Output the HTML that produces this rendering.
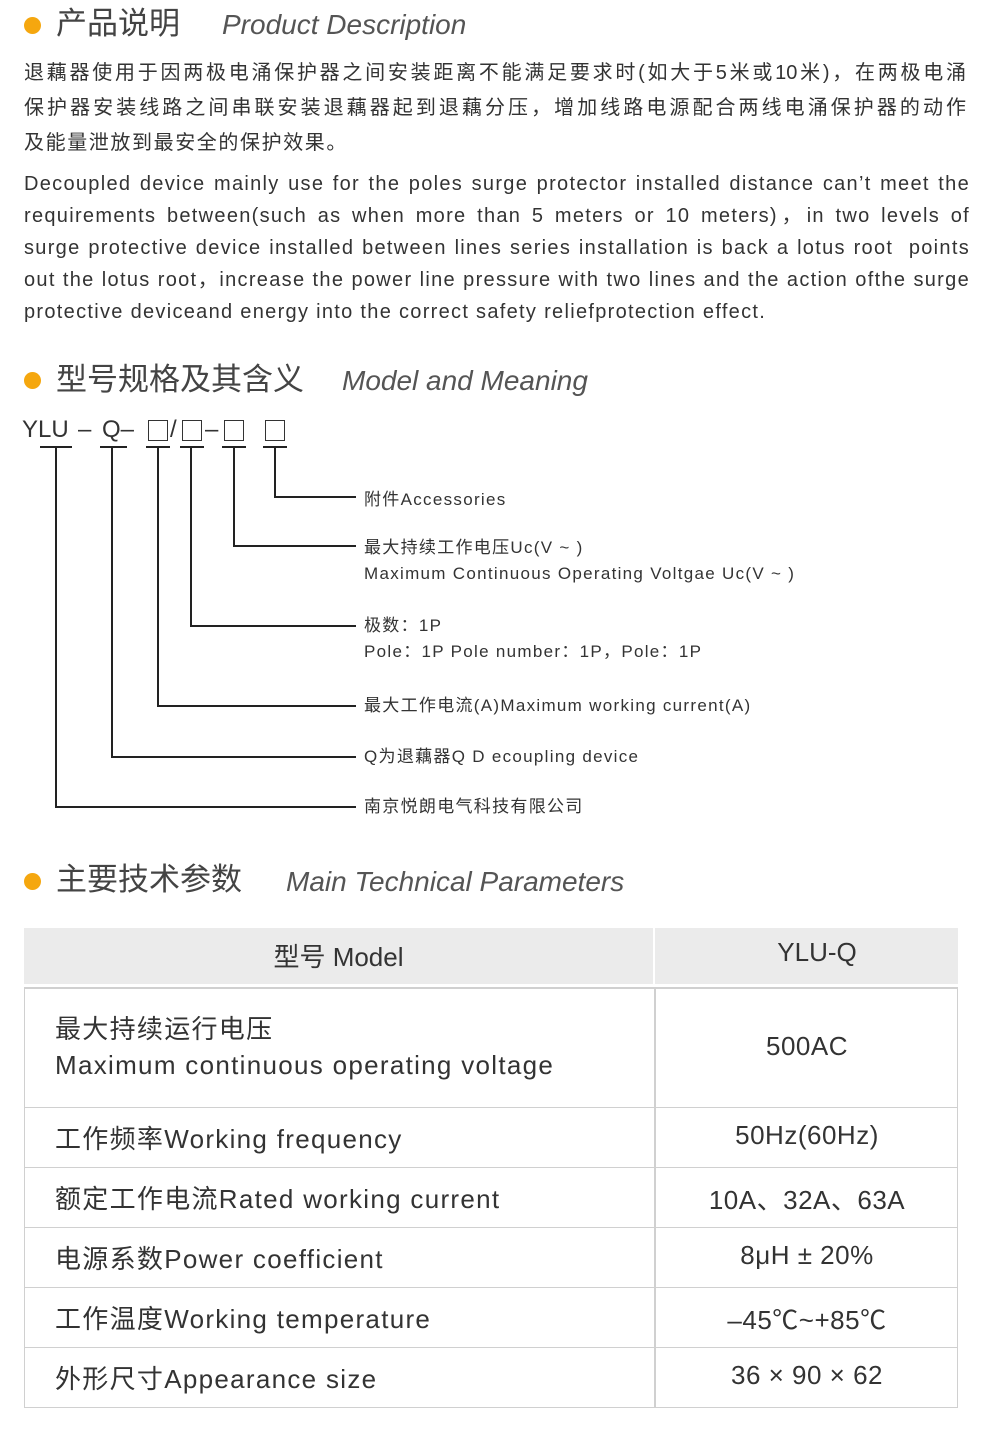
<!DOCTYPE html>
<html><head><meta charset="utf-8"><style>
*{margin:0;padding:0;box-sizing:border-box}
body{width:1000px;height:1435px;background:#fff;position:relative;color:#333;font-family:"Liberation Sans","Noto Sans CJK SC",sans-serif;overflow:hidden}
.a{position:absolute;white-space:nowrap}
.j{position:absolute;white-space:nowrap;text-align:justify;text-align-last:justify}
.dot{position:absolute;width:17px;height:17px;border-radius:50%;background:#f5a70f}
.h{font-size:31px;color:#444;line-height:40px}
.hi{font-size:28px;font-style:italic;color:#555;line-height:36px}
.cn{font-size:20px;left:24px;width:942px;line-height:28px}
.en{font-size:20px;left:24px;width:946px;letter-spacing:1.3px;line-height:26px;height:26px}
.l{position:absolute;background:#222}
.t{font-size:17px;letter-spacing:1.3px;line-height:20px}
.row{position:absolute;left:24px;width:934px;border:1.5px solid #d0d0d0;border-top:none}
.c1{position:absolute;left:30px;font-size:26px;letter-spacing:1.3px;white-space:nowrap}
.c2{position:absolute;left:630px;width:304px;text-align:center;font-size:26px;letter-spacing:0.5px}
.vd{position:absolute;left:654px;width:1.5px;background:#d0d0d0}
</style></head><body>
<div class="dot" style="left:24px;top:17px"></div>
<div class="a h" style="left:56px;top:4px">产品说明</div>
<div class="a hi" style="left:222px;top:7px">Product Description</div>
<div class="j cn" style="top:59px">退藕器使用于因两极电涌保护器之间安装距离不能满足要求时(如大于5米或10米)，在两极电涌</div>
<div class="j cn" style="top:94px">保护器安装线路之间串联安装退藕器起到退藕分压，增加线路电源配合两线电涌保护器的动作</div>
<div class="a cn" style="top:129px;letter-spacing:1.6px">及能量泄放到最安全的保护效果。</div>
<div class="j en" style="top:171px">Decoupled device mainly use for the poles surge protector installed distance can’t meet the</div>
<div class="j en" style="top:203px">requirements between(such as when more than 5 meters or 10 meters)，in two levels of</div>
<div class="j en" style="top:235px">surge protective device installed between lines series installation is back a lotus root&nbsp; points</div>
<div class="j en" style="top:267px">out the lotus root，increase the power line pressure with two lines and the action ofthe surge</div>
<div class="a en" style="top:299px">protective deviceand energy into the correct safety reliefprotection effect.</div>

<div class="dot" style="left:24px;top:372px"></div>
<div class="a h" style="left:56px;top:360px">型号规格及其含义</div>
<div class="a hi" style="left:342px;top:363px">Model and Meaning</div>

<div class="a" style="left:22px;top:416px;font-size:24px">YLU</div>
<div class="a" style="left:78px;top:416px;font-size:24px">–</div>
<div class="a" style="left:102px;top:416px;font-size:24px">Q–</div>
<div class="a" style="left:148px;top:420px;width:20px;height:21px;border:1.5px solid #333"></div>
<div class="a" style="left:170px;top:416px;font-size:24px">/</div>
<div class="a" style="left:182px;top:420px;width:20px;height:21px;border:1.5px solid #333"></div>
<div class="a" style="left:205px;top:416px;font-size:24px">–</div>
<div class="a" style="left:224px;top:420px;width:20px;height:21px;border:1.5px solid #333"></div>
<div class="a" style="left:265px;top:420px;width:20px;height:21px;border:1.5px solid #333"></div>
<div class="l" style="left:40px;top:446px;width:32px;height:2px"></div>
<div class="l" style="left:100px;top:446px;width:27px;height:2px"></div>
<div class="l" style="left:146px;top:446px;width:24px;height:2px"></div>
<div class="l" style="left:180px;top:446px;width:24px;height:2px"></div>
<div class="l" style="left:222px;top:446px;width:24px;height:2px"></div>
<div class="l" style="left:263px;top:446px;width:24px;height:2px"></div>
<div class="l" style="left:55px;top:446px;width:2px;height:362px"></div>
<div class="l" style="left:111px;top:446px;width:2px;height:312px"></div>
<div class="l" style="left:157px;top:446px;width:2px;height:261px"></div>
<div class="l" style="left:190px;top:446px;width:2px;height:181px"></div>
<div class="l" style="left:233px;top:446px;width:2px;height:101px"></div>
<div class="l" style="left:274px;top:446px;width:2px;height:52px"></div>
<div class="l" style="left:274px;top:496px;width:82px;height:2px"></div>
<div class="l" style="left:233px;top:545px;width:123px;height:2px"></div>
<div class="l" style="left:190px;top:625px;width:166px;height:2px"></div>
<div class="l" style="left:157px;top:705px;width:199px;height:2px"></div>
<div class="l" style="left:111px;top:756px;width:245px;height:2px"></div>
<div class="l" style="left:55px;top:806px;width:301px;height:2px"></div>
<div class="a t" style="left:364px;top:490px">附件Accessories</div>
<div class="a t" style="left:364px;top:538px">最大持续工作电压Uc(V ~ )</div>
<div class="a t" style="left:364px;top:564px">Maximum Continuous Operating Voltgae Uc(V ~ )</div>
<div class="a t" style="left:364px;top:616px">极数：1P</div>
<div class="a t" style="left:364px;top:642px">Pole：1P Pole number：1P，Pole：1P</div>
<div class="a t" style="left:364px;top:696px">最大工作电流(A)Maximum working current(A)</div>
<div class="a t" style="left:364px;top:747px">Q为退藕器Q D ecoupling device</div>
<div class="a t" style="left:364px;top:797px">南京悦朗电气科技有限公司</div>

<div class="dot" style="left:24px;top:873px"></div>
<div class="a h" style="left:56px;top:860px">主要技术参数</div>
<div class="a hi" style="left:286px;top:864px">Main Technical Parameters</div>

<div class="a" style="left:24px;top:928px;width:934px;height:56px;background:#ebebeb"></div>
<div class="a" style="left:653px;top:928px;width:2px;height:56px;background:#fff"></div>
<div class="a" style="left:24px;top:937px;width:629px;text-align:center;font-size:26px">型号 Model</div>
<div class="a" style="left:676px;top:937px;width:282px;text-align:center;font-size:26px">YLU-Q</div>

<div class="a" style="left:24px;top:987px;width:934px;height:1.5px;background:#d0d0d0"></div>
<div class="row" style="top:987px;height:121px"><div class="c1" style="top:24px;line-height:36px">最大持续运行电压<br>Maximum continuous operating voltage</div><div class="c2" style="top:44px">500AC</div></div>
<div class="row" style="top:1107px;height:61px"><div class="c1" style="top:12px">工作频率Working frequency</div><div class="c2" style="top:13px">50Hz(60Hz)</div></div>
<div class="row" style="top:1167px;height:61px"><div class="c1" style="top:12px">额定工作电流Rated working current</div><div class="c2" style="top:13px">10A、32A、63A</div></div>
<div class="row" style="top:1227px;height:61px"><div class="c1" style="top:12px">电源系数Power coefficient</div><div class="c2" style="top:13px">8μH ± 20%</div></div>
<div class="row" style="top:1287px;height:61px"><div class="c1" style="top:12px">工作温度Working temperature</div><div class="c2" style="top:13px">–45℃~+85℃</div></div>
<div class="row" style="top:1347px;height:61px"><div class="c1" style="top:12px">外形尺寸Appearance size</div><div class="c2" style="top:13px">36 × 90 × 62</div></div>
<div class="vd" style="top:987px;height:421px"></div>
</body></html>
